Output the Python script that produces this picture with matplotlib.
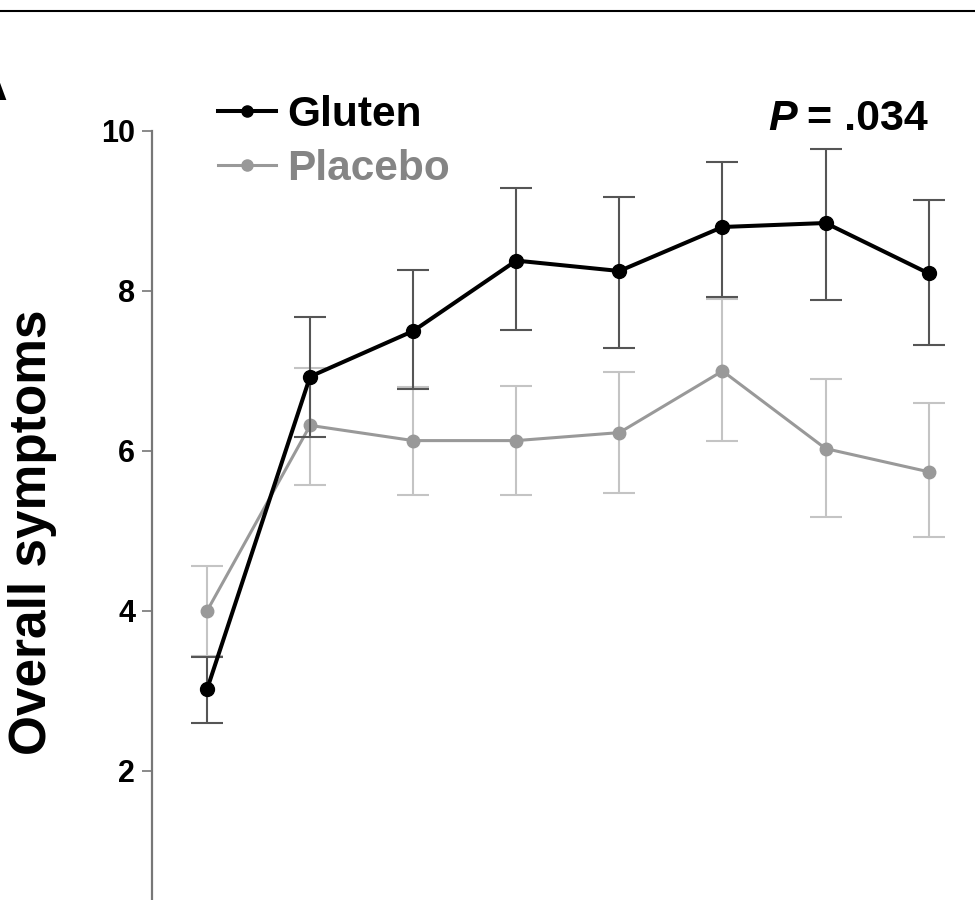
import matplotlib
matplotlib.use("Agg")
import matplotlib.pyplot as plt
from matplotlib.lines import Line2D
import numpy as np

plt.rcParams['font.family'] = ['Liberation Sans', 'DejaVu Sans']
plt.rcParams['font.weight'] = 'bold'

# Time points (days) and group means with error bar ends
days = [1, 2, 3, 4, 5, 6, 7, 8]

gluten_mean = [3.02, 6.93, 7.50, 8.38, 8.25, 8.80, 8.85, 8.22]
gluten_hi = [3.43, 7.67, 8.26, 9.29, 9.18, 9.61, 9.78, 9.14]
gluten_lo = [2.60, 6.17, 6.78, 7.51, 7.29, 7.92, 7.89, 7.32]

placebo_mean = [4.00, 6.32, 6.13, 6.13, 6.23, 7.00, 6.03, 5.74]
placebo_hi = [4.56, 7.04, 6.80, 6.81, 6.99, 7.90, 6.90, 6.60]
placebo_lo = [3.44, 5.58, 5.45, 5.45, 5.48, 6.12, 5.17, 4.92]

yticks = [2, 4, 6, 8, 10]

W, H = 975, 900
fig = plt.figure(figsize=(W / 100, H / 100), dpi=100)
ax = fig.add_axes([152 / W, 0, (W - 152) / W, 1])

# Placebo first so gluten sits on top
p_err = [np.array(placebo_mean) - np.array(placebo_lo),
         np.array(placebo_hi) - np.array(placebo_mean)]
ax.errorbar(days, placebo_mean, yerr=p_err, fmt='none', ecolor='#c4c4c4',
            elinewidth=1.5, capsize=11.5, capthick=1.5, zorder=2)
ax.plot(days, placebo_mean, color='#999999', lw=2.2, marker='o',
        markersize=9, zorder=3)

g_err = [np.array(gluten_mean) - np.array(gluten_lo),
         np.array(gluten_hi) - np.array(gluten_mean)]
ax.errorbar(days, gluten_mean, yerr=g_err, fmt='none', ecolor='#555555',
            elinewidth=1.5, capsize=11.5, capthick=1.5, zorder=4)
ax.plot(days, gluten_mean, color='black', lw=2.9, marker='o',
        markersize=10, zorder=5)

ax.set_xlim(1 + (152 - 207) / 103.1, 1 + (W - 207) / 103.1)
ax.set_ylim((931 - H) / 80, 931 / 80)

for s in ['top', 'right', 'bottom']:
    ax.spines[s].set_visible(False)
ax.spines['left'].set_bounds((931 - H) / 80, 10)
ax.spines['left'].set_color('#777777')
ax.spines['left'].set_linewidth(1.6)
ax.set_xticks([])
ax.set_yticks(yticks)
ax.set_yticklabels([str(t) for t in yticks], fontsize=22, fontweight='bold')
ax.tick_params(axis='y', length=7, width=1.2, color='#777777', pad=5)
ax.patch.set_alpha(0)

# y label
fig.text(33 / W, 1 - 532 / H, 'Overall symptoms', rotation=90, fontsize=37,
         fontweight='bold', ha='center', va='center')

# legend
handles = [Line2D([], [], color='black', lw=2.9, marker='o', markersize=8),
           Line2D([], [], color='#999999', lw=2.2, marker='o', markersize=8)]
leg = ax.legend(handles, ['Gluten', 'Placebo'], loc='upper left',
                bbox_to_anchor=(218 / W, 1 - 95 / H), bbox_transform=fig.transFigure,
                frameon=False, borderpad=0, borderaxespad=0,
                handlelength=1.38, handletextpad=0.26, labelspacing=0.33,
                prop={'weight': 'bold', 'size': 30.5})
leg.get_texts()[0].set_color('black')
leg.get_texts()[1].set_color('#858585')

# P value: italic P, then the rest
rest = fig.text(928 / W, 1 - 130 / H, '= .034', fontsize=31, fontweight='bold',
                ha='right', va='baseline')
fig.canvas.draw()
bb = rest.get_window_extent()
fig.text((bb.x0 - 10) / W, 1 - 130 / H, 'P', fontsize=31, fontweight='bold',
         style='italic', ha='right', va='baseline')

# panel letter (cut off at the left edge) and top rule
fig.text(8 / W, 1 - 100 / H, 'A', fontsize=50, fontweight='bold',
         ha='right', va='baseline')
fig.add_artist(Line2D([0, 1], [1 - 11 / H, 1 - 11 / H], color='black', lw=1.5,
                      transform=fig.transFigure))

fig.savefig('out.png', dpi=100)
